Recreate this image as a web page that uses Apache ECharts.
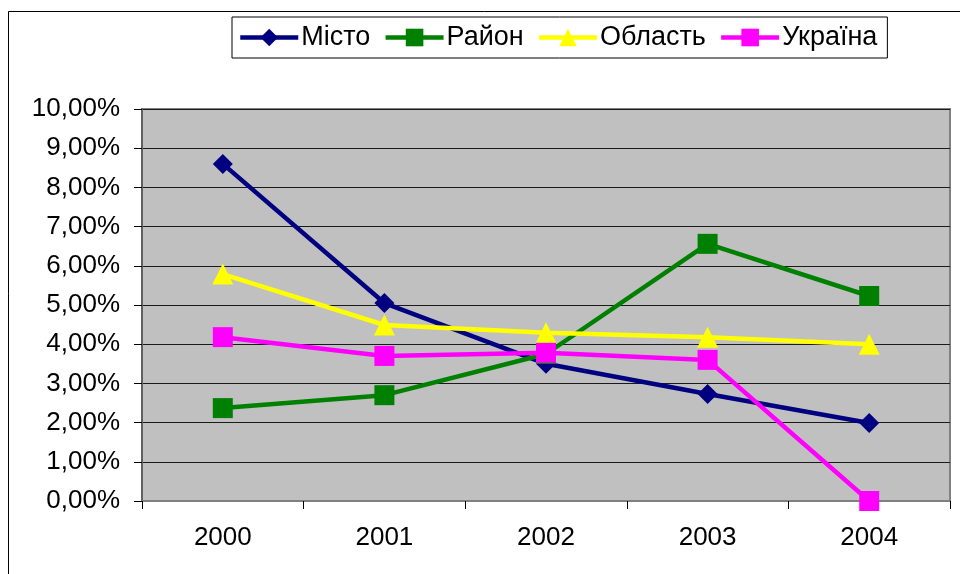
<!DOCTYPE html>
<html>
<head>
<meta charset="utf-8">
<style>
  html, body { margin: 0; padding: 0; background: #fff; }
  #chart { width: 960px; height: 574px; }
</style>
<script src="https://cdn.jsdelivr.net/npm/echarts@6/dist/echarts.min.js"></script>
</head>
<body>
<div id="chart"></div>
<script>
// years on the x axis
const years = ['2000', '2001', '2002', '2003', '2004'];

// values in percent
const misto = [8.6, 5.05, 3.5, 2.73, 1.99];
const raion = [2.37, 2.7, 3.75, 6.56, 5.23];
const oblast = [5.79, 4.49, 4.29, 4.18, 4.0];
const ukraina = [4.18, 3.7, 3.78, 3.6, 0];

const seriesNames = ['Місто', 'Район', 'Область', 'Україна'];

const chart = echarts.init(document.getElementById('chart'));

function makeSeries(name, data, color, symbol, size) {
    return {
        name: name,
        type: 'line',
        data: data,
        symbol: symbol,
        symbolSize: size,
        showAllSymbol: true,
        lineStyle: { color: color, width: 4.5 },
        itemStyle: { color: color },
        emphasis: { disabled: true },
        animation: false
    };
}

const font = 'Liberation Sans, Arial, sans-serif';

const option = {
    backgroundColor: '#fff',
    textStyle: { fontFamily: font },
    graphic: [{
        type: 'rect',
        shape: { x: 8.5, y: 11.5, width: 1000, height: 1000 },
        style: { fill: 'none', stroke: '#000', lineWidth: 1 },
        z: -10
    }],
    legend: {
        data: seriesNames,
        left: 232,
        top: 17,
        padding: [7, 10, 7, 6],
        itemGap: 13,
        itemWidth: 58,
        itemHeight: 22,
        lineStyle: { width: 4.5 },
        borderColor: '#000',
        borderWidth: 1,
        textStyle: { fontSize: 27, color: '#000', fontFamily: font, padding: [0, 0, 0, -2] }
    },
    grid: {
        left: 142,
        right: 10,
        top: 109,
        bottom: 73,
        show: true,
        backgroundColor: '#C0C0C0',
        borderColor: '#808080',
        borderWidth: 2
    },
    xAxis: {
        type: 'category',
        data: years,
        boundaryGap: true,
        axisLine: { show: true, lineStyle: { color: '#808080', width: 2 } },
        axisTick: { show: true, length: 8, lineStyle: { color: '#000', width: 1 } },
        axisLabel: { fontSize: 26, color: '#000', margin: 24, fontFamily: font },
        splitLine: { show: false }
    },
    yAxis: {
        type: 'value',
        min: 0,
        max: 10,
        interval: 1,
        axisLine: { show: true, lineStyle: { color: '#606060', width: 2 } },
        axisTick: { show: true, length: 8, lineStyle: { color: '#000', width: 1 } },
        axisLabel: {
            fontSize: 26,
            color: '#000',
            margin: 22,
            fontFamily: font,
            formatter: function (v) {
                return v.toFixed(2).replace('.', ',') + '%';
            }
        },
        splitLine: { show: true, lineStyle: { color: '#1a1a1a', width: 1 } }
    },
    series: [
        makeSeries(seriesNames[0], misto, '#000080', 'diamond', 20),
        makeSeries(seriesNames[1], raion, '#008000', 'rect', 20),
        makeSeries(seriesNames[2], oblast, '#FFFF00', 'triangle', 21),
        makeSeries(seriesNames[3], ukraina, '#FF00FF', 'rect', 20)
    ]
};

chart.setOption(option);
</script>
</body>
</html>
